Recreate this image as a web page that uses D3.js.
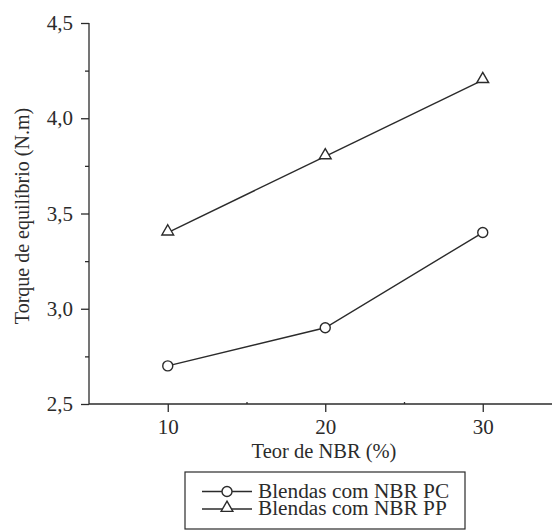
<!DOCTYPE html>
<meta charset="utf-8">
<style>
  body { margin: 0; background: #fff; }
</style>
<div id="chart"></div>
<script src="https://d3js.org/d3.v7.min.js"></script>
<script>
  const teor = [10, 20, 30];
  const torquePC = [2.7, 2.9, 3.4];
  const torquePP = [3.4, 3.8, 4.2];
  const seriesNames = ['Blendas com NBR PC', 'Blendas com NBR PP'];
  const yTicks = [2.5, 3.0, 3.5, 4.0, 4.5];
  const xTicks = [10, 20, 30];

  const width = 552, height = 531;
  const ink = '#2b2b2b';
  const serif = 'Liberation Serif';

  const svg = d3.select('#chart').append('svg')
    .attr('width', width).attr('height', height)
    .attr('font-family', serif);

  const x = d3.scaleLinear().domain([5, 35]).range([89, 561.5]);
  const y = d3.scaleLinear().domain([2.5, 4.5]).range([404, 23]);

  const fmt = (d) => d3.format('.1f')(d).replace('.', ',');

  // y axis
  const yAxis = svg.append('g').attr('transform', 'translate(89,0)')
    .call(d3.axisLeft(y).tickValues(yTicks).tickSize(8).tickPadding(8).tickFormat(fmt));
  yAxis.select('.domain').attr('d', `M0,${y(4.5)}H0V${y(2.5)}`);
  svg.append('g').attr('transform', 'translate(89,0)')
    .call(d3.axisLeft(y).tickValues(d3.range(2.75, 4.5, 0.5)).tickSize(4).tickFormat(''))
    .select('.domain').remove();

  // x axis
  const xAxis = svg.append('g').attr('transform', `translate(0,${y(2.5)})`)
    .call(d3.axisBottom(x).tickValues(xTicks).tickSize(8).tickPadding(7));
  xAxis.select('.domain').attr('d', `M89,0H${width}`);
  svg.append('g').attr('transform', `translate(0,${y(2.5)})`)
    .call(d3.axisTop(x).tickValues([15, 25]).tickSize(2).tickFormat(''))
    .select('.domain').remove();

  svg.selectAll('g').attr('font-family', serif);
  svg.selectAll('.tick line, .domain').attr('stroke', ink).attr('stroke-width', 1.3);
  svg.selectAll('.tick text').attr('font-size', 21).attr('fill', ink);

  // titles
  svg.append('text')
    .attr('transform', `translate(29,216) rotate(-90)`)
    .attr('text-anchor', 'middle')
    .attr('font-size', 20).attr('fill', ink)
    .text('Torque de equilíbrio (N.m)');
  svg.append('text')
    .attr('x', 324).attr('y', 458)
    .attr('text-anchor', 'middle')
    .attr('font-size', 20.5).attr('fill', ink)
    .text('Teor de NBR (%)');

  // lines
  const line = d3.line().x((d, i) => x(teor[i])).y((d) => y(d));
  [torquePC, torquePP].forEach((vals) => {
    svg.append('path').attr('d', line(vals))
      .attr('fill', 'none').attr('stroke', ink).attr('stroke-width', 1.4);
  });

  const tri = d3.symbol().type(d3.symbolTriangle).size(60);
  svg.selectAll('.pc').data(torquePC).enter().append('circle')
    .attr('cx', (d, i) => x(teor[i])).attr('cy', (d) => y(d)).attr('r', 5)
    .attr('fill', '#fff').attr('stroke', ink).attr('stroke-width', 1.4);
  svg.selectAll('.pp').data(torquePP).enter().append('path')
    .attr('d', tri)
    .attr('transform', (d, i) => `translate(${x(teor[i])},${y(d) - 1})`)
    .attr('fill', '#fff').attr('stroke', ink).attr('stroke-width', 1.4);

  // legend
  const lg = svg.append('g');
  lg.append('rect').attr('x', 185).attr('y', 472).attr('width', 280).attr('height', 57)
    .attr('fill', 'none').attr('stroke', ink).attr('stroke-width', 1.2);
  seriesNames.forEach((name, i) => {
    const ly = 491.5 + i * 17.5;
    lg.append('line').attr('x1', 202).attr('x2', 252).attr('y1', ly).attr('y2', ly)
      .attr('stroke', ink).attr('stroke-width', 1.4);
    if (i === 0) {
      lg.append('circle').attr('cx', 227).attr('cy', ly).attr('r', 5)
        .attr('fill', '#fff').attr('stroke', ink).attr('stroke-width', 1.4);
    } else {
      lg.append('path').attr('d', tri).attr('transform', `translate(227,${ly - 1})`)
        .attr('fill', '#fff').attr('stroke', ink).attr('stroke-width', 1.4);
    }
    lg.append('text').attr('x', 258).attr('y', ly + 6)
      .attr('font-size', 21.3).attr('fill', ink).text(name);
  });
</script>
